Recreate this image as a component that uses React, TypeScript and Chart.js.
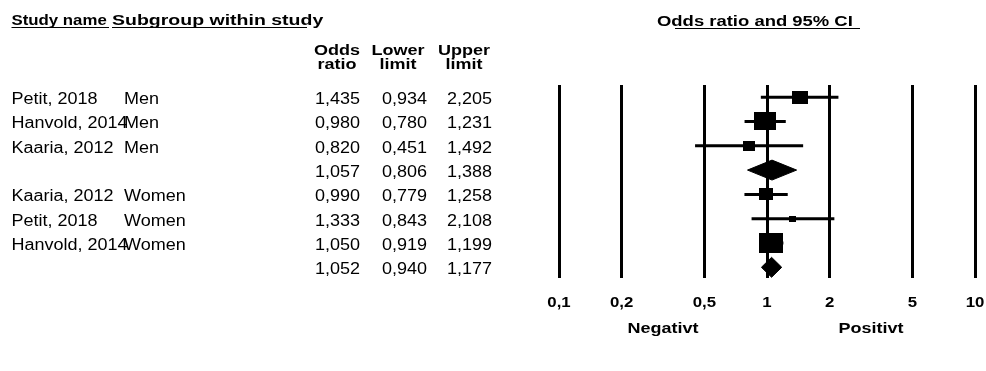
import React, { useEffect, useRef } from "react";
import { Chart, registerables } from "chart.js";

Chart.register(...registerables);

// ---- Data ----
const STUDY_NAMES = ["Petit, 2018", "Hanvold, 2014", "Kaaria, 2012", "", "Kaaria, 2012", "Petit, 2018", "Hanvold, 2014", ""];
const SUBGROUPS = ["Men", "Men", "Men", "", "Women", "Women", "Women", ""];
const ODDS_RATIO = [1.435, 0.98, 0.82, 1.057, 0.99, 1.333, 1.05, 1.052];
const LOWER_LIMIT = [0.934, 0.78, 0.451, 0.806, 0.779, 0.843, 0.919, 0.94];
const UPPER_LIMIT = [2.205, 1.231, 1.492, 1.388, 1.258, 2.108, 1.199, 1.177];
const IS_SUMMARY = [false, false, false, true, false, false, false, true];
const WEIGHTS = [13, 18, 10, 0, 12, 6, 20, 0];
const TICK_VALUES = [0.1, 0.2, 0.5, 1, 2, 5, 10];
const TICK_LABELS = ["0,1", "0,2", "0,5", "1", "2", "5", "10"];
const COLUMN_HEADERS = [["Odds", "ratio"], ["Lower", "limit"], ["Upper", "limit"]];
const HEADER_STUDY = "Study name";
const HEADER_SUBGROUP = "Subgroup within study";
const HEADER_PLOT = "Odds ratio and 95% CI ";
const FAVOURS = ["Negativt", "Positivt"];

// ---- Styles ----
const FONT = '"Liberation Sans", Arial, sans-serif';
const DIAMOND_HALF = 0.41;
const BOX_STRETCH = 1.2;

function fmt(v: number) {
  return v.toFixed(3).replace(".", ",");
}

function drawText(ctx: CanvasRenderingContext2D, text: string, x: number, y: number, o: { bold?: boolean; size: number; sx?: number; align?: CanvasTextAlign }) {
  ctx.save();
  ctx.font = `${o.bold ? "bold " : ""}${o.size}px ${FONT}`;
  ctx.fillStyle = "#000";
  ctx.textBaseline = "alphabetic";
  ctx.textAlign = o.align || "left";
  ctx.translate(x, y);
  ctx.scale(o.sx ?? 1.2, 1);
  ctx.fillText(text, 0, 0);
  ctx.restore();
}

function makeBox(h: number) {
  const c = document.createElement("canvas");
  c.width = Math.max(1, Math.round(h * BOX_STRETCH));
  c.height = Math.max(1, Math.round(h));
  const g = c.getContext("2d")!;
  g.fillStyle = "#000";
  g.fillRect(0, 0, c.width, c.height);
  return c;
}

const tablePlugin = {
  id: "forestTable",
  afterDraw(chart: any) {
    const ctx: CanvasRenderingContext2D = chart.ctx;
    const xs = chart.scales.x;
    const ys = chart.scales.y;
    // headers
    drawText(ctx, HEADER_STUDY, 11.5, 25, { bold: true, size: 14, sx: 1.2 });
    drawText(ctx, HEADER_SUBGROUP, 112, 25, { bold: true, size: 15, sx: 1.3 });
    drawText(ctx, HEADER_PLOT, 657, 25.5, { bold: true, size: 15, sx: 1.23 });
    ctx.save();
    ctx.fillStyle = "#000";
    ctx.fillRect(11.5, 27, 97.5, 1);
    ctx.fillRect(112, 27, 195, 1);
    ctx.fillRect(675, 28, 185, 1);
    ctx.restore();
    const colCenters = [337, 398, 464];
    const colRights = [360, 427, 492];
    COLUMN_HEADERS.forEach((h, i) => {
      drawText(ctx, h[0], colCenters[i], 55, { bold: true, size: 15, sx: 1.2, align: "center" });
      drawText(ctx, h[1], colCenters[i], 68.5, { bold: true, size: 15, sx: 1.2, align: "center" });
    });
    // rows
    for (let i = 0; i < ODDS_RATIO.length; i++) {
      const y = ys.getPixelForValue(i) + 7;
      if (STUDY_NAMES[i]) drawText(ctx, STUDY_NAMES[i], 11.5, y, { size: 16, sx: 1.125 });
      if (SUBGROUPS[i]) drawText(ctx, SUBGROUPS[i], 124, y, { size: 16, sx: 1.125 });
      [ODDS_RATIO[i], LOWER_LIMIT[i], UPPER_LIMIT[i]].forEach((v, k) => {
        drawText(ctx, fmt(v), colRights[k], y, { size: 16, sx: 1.125, align: "right" });
      });
    }
    // tick labels
    TICK_VALUES.forEach((v, i) => {
      drawText(ctx, TICK_LABELS[i], xs.getPixelForValue(v), 306.5, { bold: true, size: 14, sx: 1.2, align: "center" });
    });
    drawText(ctx, FAVOURS[0], xs.getPixelForValue(0.316), 332.5, { bold: true, size: 15, sx: 1.2, align: "center" });
    drawText(ctx, FAVOURS[1], xs.getPixelForValue(3.16), 332.5, { bold: true, size: 15, sx: 1.2, align: "center" });
  },
};

export default function App() {
  const ref = useRef<HTMLCanvasElement | null>(null);
  useEffect(() => {
    if (!ref.current) return;
    const datasets: any[] = [];
    ODDS_RATIO.forEach((or, i) => {
      if (IS_SUMMARY[i]) {
        datasets.push({
          type: "line",
          data: [
            { x: LOWER_LIMIT[i], y: i },
            { x: or, y: i - DIAMOND_HALF },
            { x: UPPER_LIMIT[i], y: i },
            { x: or, y: i + DIAMOND_HALF },
            { x: LOWER_LIMIT[i], y: i },
          ],
          borderColor: "#000",
          backgroundColor: "#000",
          borderWidth: 1,
          pointRadius: 0,
          fill: "shape",
          tension: 0,
        });
      } else {
        datasets.push({
          type: "line",
          data: [
            { x: LOWER_LIMIT[i], y: i },
            { x: UPPER_LIMIT[i], y: i },
          ],
          borderColor: "#000",
          borderWidth: 3,
          pointRadius: 0,
          fill: false,
        });
      }
    });
    const studyIdx = ODDS_RATIO.map((_, i) => i).filter((i) => !IS_SUMMARY[i]);
    datasets.push({
      type: "scatter",
      data: studyIdx.map((i) => ({ x: ODDS_RATIO[i], y: i })),
      pointStyle: studyIdx.map((i) => makeBox(WEIGHTS[i])),
      pointRadius: 5,
      backgroundColor: "#000",
      borderColor: "#000",
    });

    const chart = new Chart(ref.current, {
      type: "line",
      data: { datasets },
      options: {
        animation: false,
        responsive: false,
        events: [],
        layout: { padding: { left: 559, right: 11, top: 85, bottom: 93 } },
        plugins: { legend: { display: false }, tooltip: { enabled: false } },
        scales: {
          x: {
            type: "logarithmic",
            min: 0.1,
            max: 10,
            position: "bottom",
            afterBuildTicks: (s: any) => {
              s.ticks = TICK_VALUES.map((v) => ({ value: v }));
            },
            afterFit: (s: any) => {
              s.height = 0;
            },
            ticks: { display: false },
            grid: { display: true, drawOnChartArea: true, drawTicks: false, color: "#000", lineWidth: 3 },
            border: { display: false },
          },
          y: {
            type: "linear",
            display: false,
            reverse: true,
            min: -0.5,
            max: 7.44,
          },
        },
      } as any,
      plugins: [tablePlugin],
    });
    return () => chart.destroy();
  }, []);
  return (
    <div style={{ position: "absolute", left: 0, top: 0, width: 986, height: 371, background: "#fff" }}>
      <canvas ref={ref} width={986} height={371} style={{ display: "block" }} />
    </div>
  );
}
